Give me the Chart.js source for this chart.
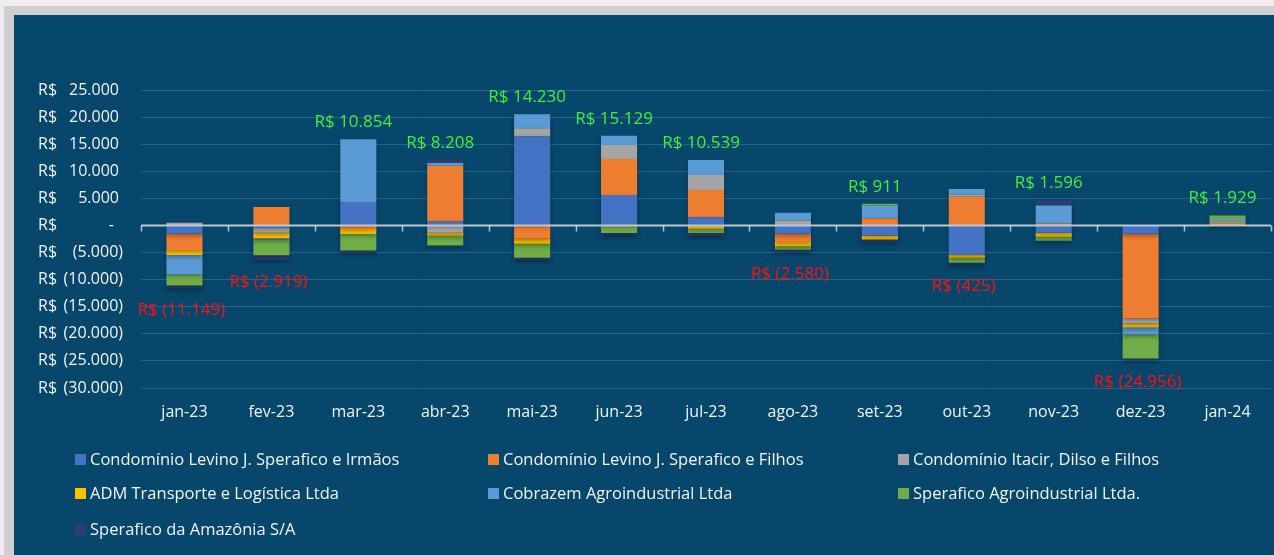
<!DOCTYPE html>
<html>
<head>
<meta charset="utf-8">
<script src="https://cdn.jsdelivr.net/npm/chart.js"></script>
<style>
  html, body { margin: 0; padding: 0; background: #efeded; }
  canvas { display: block; }
</style>
</head>
<body>
<canvas id="grafico" width="1274" height="555"></canvas>
<script>
// meses e valores por empresa
var meses = ['jan-23','fev-23','mar-23','abr-23','mai-23','jun-23','jul-23','ago-23','set-23','out-23','nov-23','dez-23','jan-24'];

var irmaos   = [-1550,  -430,  4200,   740, 16430,  5640,  1530, -1530, -1840, -5400, -1350,  -1530,    0];
var filhos   = [-3000,  3420,  -650, 10300, -2450,  6620,  5030, -1530,  1350,  5280,   300, -15640,  300];
var itacir   = [  500,  -930,     0, -1350,  1530,  2580,  2760,   920,     0,   370,     0,   -920,  200];
var adm      = [ -880,  -990,  -950,  -550,  -920,  -150,  -600,  -800,  -740,  -550,  -740,   -740,  250];
var cobrazem = [-3600,  -250, 11700,   500,  2580,  1720,  2760,  1410,  2270,  1100,  3380,  -1290,  450];
var agro     = [-2070, -2890, -3000, -1780, -2580, -1230,  -800,  -610,   370,  -920,  -740,  -4420,  620];
var amazonia = [ -500,  -850,  -450,   600,  -490,  -430,  -550,  -430,  -490,  -300,   920,   -310, -100];

// resultado liquido mostrado em cima / embaixo de cada coluna
var totais = [-11149, -2919, 10854, 8208, 14230, 15129, 10539, -2580, 911, -425, 1596, -24956, 1929];

var nomes = ['Condomínio Levino J. Sperafico e Irmãos','Condomínio Levino J. Sperafico e Filhos','Condomínio Itacir, Dilso e Filhos',
             'ADM Transporte e Logística Ltda','Cobrazem Agroindustrial Ltda','Sperafico Agroindustrial Ltda.','Sperafico da Amazônia S/A'];
var cores = ['#4472c4','#ed7d31','#a5a5a5','#ffc000','#5b9bd5','#70ad47','#2b3f74'];
var series = [irmaos, filhos, itacir, adm, cobrazem, agro, amazonia];

var fonte = '"Open Sans", sans-serif';

function milhar(n){
  return String(Math.round(n)).replace(/\B(?=(\d{3})+(?!\d))/g, '.');
}

var fundo = {
  id: 'fundo',
  beforeDraw: function(chart){
    var ctx = chart.ctx;
    ctx.save();
    ctx.fillStyle = '#efeded';
    ctx.fillRect(0, 0, chart.width, chart.height);
    ctx.fillStyle = '#d0cece';
    ctx.fillRect(4, 6, chart.width, chart.height);
    ctx.fillStyle = '#08476c';
    ctx.fillRect(14, 15, chart.width, chart.height);
    ctx.restore();
  }
};

// sombra leve embaixo das colunas, como no Excel
var sombra = {
  id: 'sombra',
  beforeDatasetsDraw: function(chart){
    var ctx = chart.ctx;
    ctx.save();
    ctx.shadowColor = 'rgba(0,0,0,0.35)';
    ctx.shadowBlur = 4;
    ctx.shadowOffsetY = 2;
  },
  afterDatasetsDraw: function(chart){
    chart.ctx.restore();
  }
};

// eixo Y no formato contabil: "R$" a esquerda, numero a direita
var rotulosY = {
  id: 'rotulosY',
  afterDraw: function(chart){
    var ctx = chart.ctx, y = chart.scales.y;
    ctx.save();
    ctx.font = '16px ' + fonte;
    ctx.fillStyle = '#f2f2f2';
    ctx.textBaseline = 'middle';
    y.ticks.forEach(function(t){
      var py = y.getPixelForValue(t.value);
      ctx.textAlign = 'left';
      ctx.fillText('R$', 38, py);
      ctx.textAlign = 'right';
      if(t.value > 0){
        ctx.fillText(milhar(t.value), 119, py);
      } else if(t.value < 0){
        ctx.fillText('(' + milhar(-t.value) + ')', 123, py);
      } else {
        ctx.fillText('-', 114, py);
      }
    });
    ctx.restore();
  }
};

var linhaZero = {
  id: 'linhaZero',
  afterDatasetsDraw: function(chart){
    var ctx = chart.ctx, y = chart.scales.y, a = chart.chartArea;
    var py = y.getPixelForValue(0);
    var passo = (a.right - a.left) / meses.length;
    ctx.save();
    ctx.strokeStyle = 'rgba(215,220,225,0.85)';
    ctx.lineWidth = 2;
    ctx.beginPath();
    ctx.moveTo(a.left, py);
    ctx.lineTo(a.right, py);
    ctx.stroke();
    ctx.lineWidth = 1.5;
    for(var i = 0; i <= meses.length; i++){
      var px = Math.round(a.left + i * passo) + 0.5;
      ctx.beginPath();
      ctx.moveTo(px, py);
      ctx.lineTo(px, py + 6);
      ctx.stroke();
    }
    ctx.restore();
  }
};

var rotulosTotal = {
  id: 'rotulosTotal',
  afterDraw: function(chart){
    var ctx = chart.ctx, x = chart.scales.x, y = chart.scales.y;
    ctx.save();
    ctx.font = '17px ' + fonte;
    ctx.textAlign = 'center';
    ctx.textBaseline = 'middle';
    totais.forEach(function(v, i){
      var pos = 0, neg = 0;
      series.forEach(function(s){ if(s[i] > 0) pos += s[i]; else neg += s[i]; });
      var px = x.getPixelForValue(i);
      if(v >= 0){
        ctx.fillStyle = '#44ee3a';
        ctx.fillText('R$ ' + milhar(v), px - 5, y.getPixelForValue(pos) - 17);
      } else {
        ctx.fillStyle = '#ff1010';
        ctx.fillText('R$ (' + milhar(-v) + ')', px - 3, y.getPixelForValue(neg) + 22);
      }
    });
    ctx.restore();
  }
};

var legenda = {
  id: 'legenda',
  afterDraw: function(chart){
    var ctx = chart.ctx;
    var colX = [75, 488, 898], linY = [460, 494, 530];
    ctx.save();
    ctx.font = '16.5px ' + fonte;
    ctx.textAlign = 'left';
    ctx.textBaseline = 'middle';
    chart.data.datasets.forEach(function(ds, i){
      var cx = colX[i % 3], cy = linY[Math.floor(i / 3)];
      ctx.fillStyle = ds.backgroundColor;
      ctx.fillRect(cx, cy - 6, 11, 11);
      ctx.fillStyle = '#f2f2f2';
      ctx.fillText(ds.label, cx + 15, cy);
    });
    ctx.restore();
  }
};

var datasets = series.map(function(s, i){
  return {
    label: nomes[i],
    data: s,
    backgroundColor: cores[i],
    borderWidth: 0,
    barPercentage: 0.415,
    categoryPercentage: 1
  };
});

new Chart(document.getElementById('grafico'), {
  type: 'bar',
  data: { labels: meses, datasets: datasets },
  options: {
    responsive: false,
    animation: false,
    devicePixelRatio: 1,
    layout: { padding: { top: 90, right: 3, bottom: 117, left: 0 } },
    plugins: {
      legend: { display: false },
      tooltip: { enabled: false }
    },
    scales: {
      x: {
        stacked: true,
        grid: { display: false, drawTicks: false },
        border: { display: false },
        ticks: { color: '#f2f2f2', font: { family: fonte, size: 16 }, padding: 15 },
        afterFit: function(s){ s.height = 50; }
      },
      y: {
        stacked: true,
        min: -30000,
        max: 25000,
        ticks: { stepSize: 5000, display: false },
        grid: { color: '#2b6189', lineWidth: 1, drawTicks: false },
        border: { display: false },
        afterFit: function(s){ s.width = 141; }
      }
    }
  },
  plugins: [fundo, sombra, linhaZero, rotulosY, rotulosTotal, legenda]
});
</script>
</body>
</html>
